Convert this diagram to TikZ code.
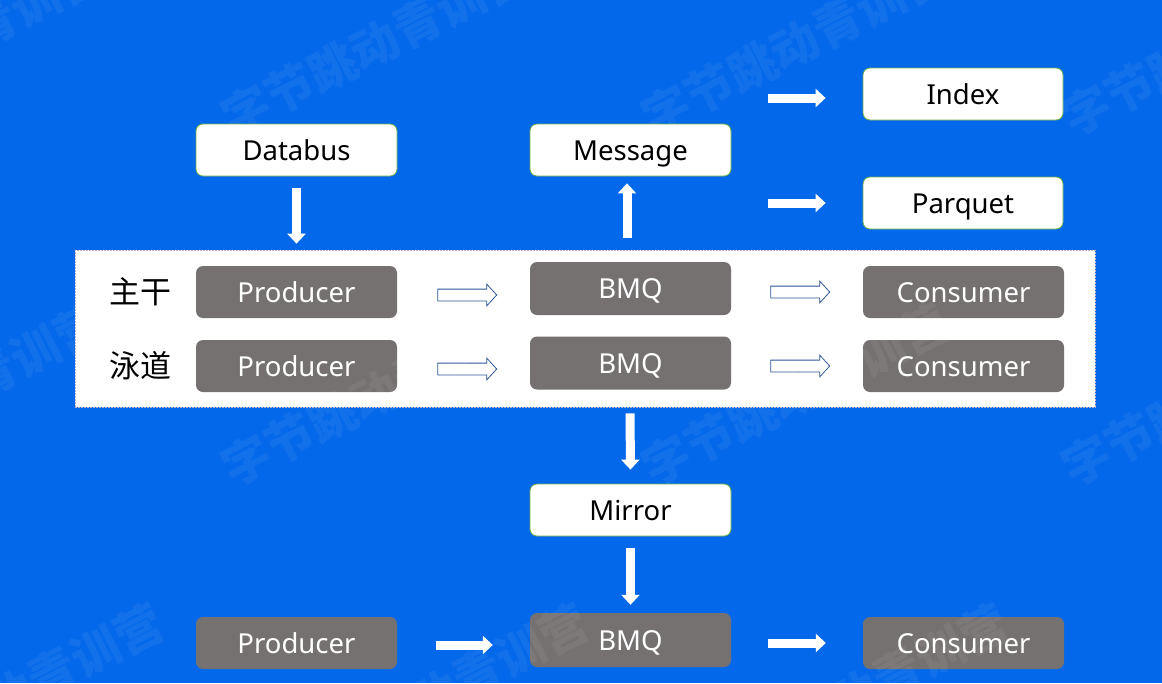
\documentclass[tikz,border=0pt]{standalone}
\usepackage{fontspec}
\setmainfont{Noto Sans}
\newfontfamily\cjk{Noto Sans CJK SC}
\usetikzlibrary{shapes.arrows,arrows.meta}
\definecolor{bg}{RGB}{4,104,234}
\definecolor{boxgray}{RGB}{118,113,113}
\definecolor{boxgreen}{RGB}{112,173,71}
\definecolor{arrowblue}{RGB}{47,85,151}
\definecolor{panelline}{RGB}{190,180,200}
\begin{document}
\begin{tikzpicture}[x=1pt,y=-1pt,
  boxtext/.style={font=\fontsize{27.5}{32}\selectfont, text height=22pt, text depth=2pt},
  whitebox/.style={boxtext, draw=boxgreen, line width=0.8pt, fill=white, rounded corners=7pt,
    minimum width=201pt, minimum height=52pt, inner sep=0pt, text=black},
  graybox/.style={boxtext, fill=boxgray, rounded corners=7pt,
    minimum width=201pt, minimum height=52pt, inner sep=0pt, text=white},
  lanelabel/.style={font=\cjk\fontsize{31}{34}\selectfont, text=black, inner sep=0pt},
  solidarrow/.style={draw=white, line width=9pt, -{Triangle[length=10pt,width=18pt]}},
  outarrow/.style={single arrow, draw=arrowblue, line width=0.8pt, fill=white,
    minimum height=59pt, inner sep=5.5pt, single arrow head extend=5pt,
    single arrow tip angle=95},
  wm/.style={font=\cjk\bfseries\fontsize{48}{50}\selectfont, text=white, text opacity=0.06, inner sep=0pt}
]
\useasboundingbox (0,0) rectangle (1162,683);
\fill[bg] (0,0) rectangle (1162,683);

% panel
\node[fill=white, draw=panelline, line width=0.7pt, dash pattern=on 2pt off 1pt,
  minimum width=1020pt, minimum height=157pt, inner sep=0pt] (panel) at (585,328.5) {};

% top nodes
\node[whitebox] (databus) at (296.5,150) {Databus};
\node[whitebox] (message) at (630.5,150) {Message};
\node[whitebox, minimum width=200pt] (index) at (963,94) {Index};
\node[whitebox, minimum width=200pt] (parquet) at (963,203) {Parquet};

% lanes
\node[lanelabel] (lab1) at (140,292) {主干};
\node[lanelabel] (lab2) at (140,366) {泳道};
\node[graybox] (prod1) at (296.5,292) {Producer};
\node[graybox] (prod2) at (296.5,366) {Producer};
\node[graybox, minimum height=53pt] (bmq1) at (630.5,288.5) {BMQ};
\node[graybox, minimum height=53pt] (bmq2) at (630.5,363) {BMQ};
\node[graybox] (cons1) at (963.5,292) {Consumer};
\node[graybox] (cons2) at (963.5,366) {Consumer};

\node[outarrow] (oa1) at (464.5,295) {};
\node[outarrow] (oa2) at (464.5,369) {};
\node[outarrow] (oa3) at (797.5,292) {};
\node[outarrow] (oa4) at (797.5,366) {};

% mirror and bottom row
\node[whitebox] (mirror) at (630.5,510) {Mirror};
\node[graybox] (prod3) at (296.5,643) {Producer};
\node[graybox, minimum height=54pt] (bmq3) at (630.5,640) {BMQ};
\node[graybox] (cons3) at (963.5,643) {Consumer};

% free ends for the arrows into Index and Parquet
\coordinate (ia) at (768,98);
\coordinate (pa) at (768,203);

% solid white arrows (xshift/yshift are in page units: positive yshift = up)
\draw[solidarrow] ([yshift=-12pt]databus.south) -- ([xshift=-288.5pt,yshift=6pt]panel.north);
\draw[solidarrow] ([xshift=42pt,yshift=12pt]panel.north) -- ([xshift=-3.5pt,yshift=-7pt]message.south);
\draw[solidarrow] (ia) -- ([xshift=-37pt,yshift=-4pt]index.west);
\draw[solidarrow] (pa) -- ([xshift=-37pt]parquet.west);
\draw[solidarrow] ([xshift=45pt,yshift=-6pt]panel.south) -- ([yshift=14pt]mirror.north);
\draw[solidarrow] ([yshift=-12pt]mirror.south) -- ([yshift=8pt]bmq3.north);
\draw[solidarrow] ([xshift=39pt,yshift=-2pt]prod3.east) -- ([xshift=-37pt,yshift=-5pt]bmq3.west);
\draw[solidarrow] ([xshift=37pt,yshift=-3pt]bmq3.east) -- ([xshift=-37pt]cons3.west);

% watermark
\begin{scope}
\clip (0,0) rectangle (1162,683);
\foreach \wx in {-50,375,795,1215}{
  \foreach \wy in {45,395}{
    \node[wm, rotate=27] at (\wx,\wy) {字节跳动青训营};
  }
}
\foreach \wx in {10,435,855}{
  \node[wm, rotate=27] at (\wx,695) {字节跳动青训营};
}
\end{scope}
\end{tikzpicture}
\end{document}
